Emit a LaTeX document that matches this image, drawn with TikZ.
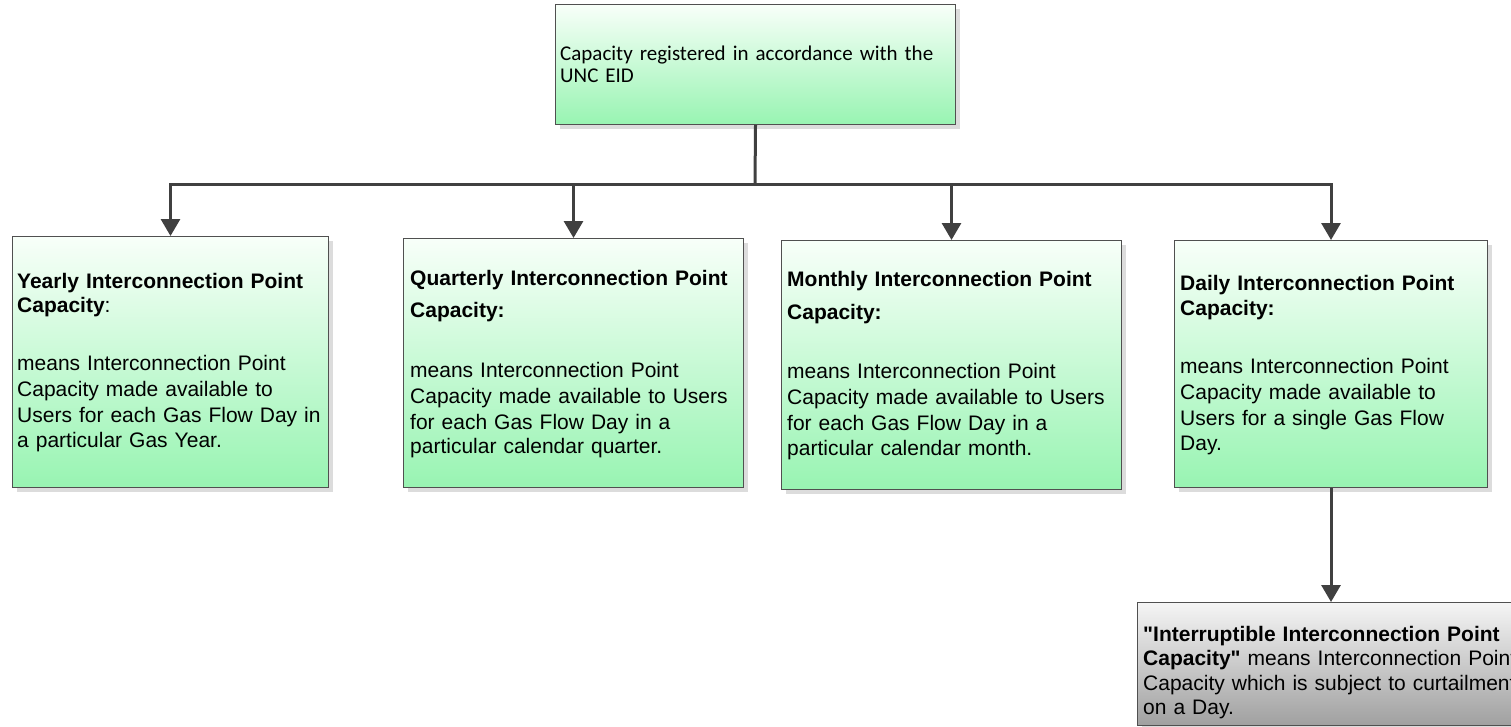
\documentclass[tikz,border=0pt]{standalone}
\usepackage{fontspec}
\setmainfont{Liberation Sans}[Ligatures=TeXOff]
\newfontfamily\calibri{Carlito}
\usetikzlibrary{arrows.meta,shadows}
\definecolor{linegray}{RGB}{64,64,64}
\definecolor{bordergray}{RGB}{80,80,80}
\definecolor{greentop}{RGB}{248,255,249}
\definecolor{greenbot}{RGB}{152,244,178}
\definecolor{graytop}{RGB}{245,245,245}
\definecolor{graybot}{RGB}{160,160,160}
\definecolor{shadowgray}{RGB}{220,220,220}
\tikzset{
  box/.style={draw=bordergray, line width=1pt, anchor=north west, inner sep=0pt,
    drop shadow={shadow xshift=4pt, shadow yshift=-4pt, fill=shadowgray, opacity=1}},
  greenbox/.style={box, top color=greentop, bottom color=greenbot},
  graybox/.style={box, top color=graytop, bottom color=graybot},
  boxtext/.style={anchor=base west, inner sep=0pt, text width=420pt, align=left,
    font=\fontsize{21pt}{26pt}\selectfont},
  conn/.style={draw=linegray, line width=3pt},
  arr/.style={conn, -{Triangle[length=17pt,width=19pt]}}
}
\begin{document}
\begin{tikzpicture}[x=1pt,y=-1pt]
\useasboundingbox (0,0) rectangle (1511,726);
\clip (0,0) rectangle (1511,726);
% boxes
\node[greenbox, minimum width=400pt, minimum height=120pt] (top) at (555,4) {};
\node[greenbox, minimum width=316pt, minimum height=251pt] (yearly) at (12,236) {};
\node[greenbox, minimum width=340pt, minimum height=249pt] (quarterly) at (403,238) {};
\node[greenbox, minimum width=340pt, minimum height=249pt] (monthly) at (781,240) {};
\node[greenbox, minimum width=313pt, minimum height=247pt] (daily) at (1174,240) {};
\node[graybox, minimum width=420pt, minimum height=123pt] (interr) at (1137,602) {};
% texts
\node[boxtext, font=\calibri\fontsize{21pt}{22pt}\selectfont] (toptext) at (560,60)
  {Capacity registered in accordance with the\\UNC EID};
\node[boxtext] (yearlytext) at (17,288)
  {\textbf{Yearly Interconnection Point}\\[-2pt]
   \textbf{Capacity}:\\[32pt]
   means Interconnection Point\\
   Capacity made available to\\
   Users for each Gas Flow Day in\\[-1pt]
   a particular Gas Year.};
\node[boxtext] (quarterlytext) at (410,285)
  {\textbf{Quarterly Interconnection Point}\\[6pt]
   \textbf{Capacity:}\\[34pt]
   means Interconnection Point\\
   Capacity made available to Users\\
   for each Gas Flow Day in a\\[-2pt]
   particular calendar quarter.};
\node[boxtext] (monthlytext) at (787,286)
  {\textbf{Monthly Interconnection Point}\\[7pt]
   \textbf{Capacity:}\\[33pt]
   means Interconnection Point\\
   Capacity made available to Users\\
   for each Gas Flow Day in a\\[-1pt]
   particular calendar month.};
\node[boxtext] (dailytext) at (1180,290)
  {\textbf{Daily Interconnection Point}\\[-1pt]
   \textbf{Capacity:}\\[32pt]
   means Interconnection Point\\
   Capacity made available to\\
   Users for a single Gas Flow\\[-1pt]
   Day.};
\node[boxtext, font=\fontsize{21pt}{24.5pt}\selectfont] (interrtext) at (1143,641)
  {\textbf{"Interruptible Interconnection Point}\\
   \textbf{Capacity"} means Interconnection Point\\
   Capacity which is subject to curtailment\\
   on a Day.};
% connectors
\coordinate (bus) at (755,184);
\draw[conn] (top.south) -- (bus);
\draw[arr] (bus) -| (yearly.north);
\draw[arr] (bus) -| (quarterly.north);
\draw[arr] (bus) -| (monthly.north);
\draw[arr] (bus) -| (daily.north);
\draw[arr] (daily.south) -- (daily.south |- interr.north);
\end{tikzpicture}
\end{document}
